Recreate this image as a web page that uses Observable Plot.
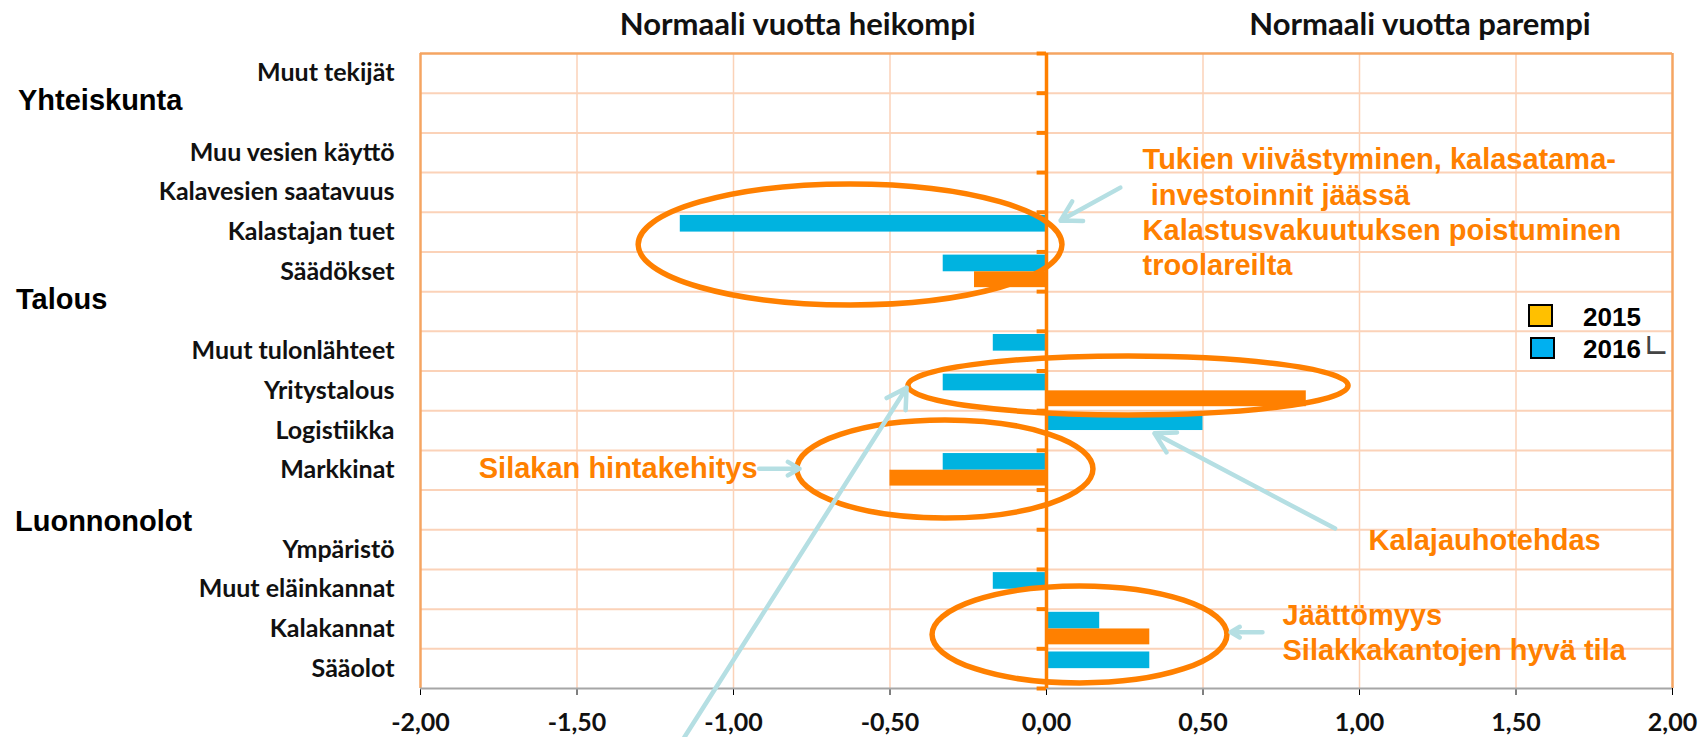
<!DOCTYPE html>
<html>
<head>
<meta charset="utf-8">
<script src="https://cdn.jsdelivr.net/npm/d3@7"></script>
<script src="https://cdn.jsdelivr.net/npm/@observablehq/plot@0.6"></script>
<style>
  html, body { margin: 0; padding: 0; background: #fff; }
  #wrap { position: relative; width: 1708px; height: 737px; overflow: hidden; }
  #wrap svg { position: absolute; left: 0; top: 0; }
  .lbl { position: absolute; white-space: nowrap; transform: translateY(-50%); line-height: 1; }
  .head { font-family: Lato, sans-serif; font-weight: 700; font-size: 31px; color: #111; transform: translate(-50%, -50%); }
  .group { font-family: "Liberation Sans", Arial, sans-serif; font-weight: 700; font-size: 29px; color: #000; }
  .legtxt { font-family: "Liberation Sans", Arial, sans-serif; font-weight: 700; font-size: 26px; color: #000; }
  .sw { position: absolute; box-sizing: border-box; border: 2px solid #000; }
  [aria-label^="y-axis"] text { font-family: Lato, sans-serif; font-weight: 700; font-size: 25px; fill: #111; }
  [aria-label^="x-axis"] text { font-family: Lato, sans-serif; font-weight: 700; font-size: 25px; fill: #111; }
</style>
</head>
<body>
<div id="wrap"></div>
<script>
// ---- data ----
const categories = ["Muut tekijät", "", "Muu vesien käyttö", "Kalavesien saatavuus", "Kalastajan tuet", "Säädökset", "",
  "Muut tulonlähteet", "Yritystalous", "Logistiikka", "Markkinat", "",
  "Ympäristö", "Muut eläinkannat", "Kalakannat", "Sääolot"];
const values2015 = [0, null, 0, 0, 0, -0.23, null, 0, 0.83, 0, -0.50, null, 0, 0, 0.33, 0];
const values2016 = [0, null, 0, 0, -1.17, -0.33, null, -0.17, -0.33, 0.50, -0.33, null, 0, -0.17, 0.17, 0.33];
const years = ["2015", "2016"];
const xTicks = [-2, -1.5, -1, -0.5, 0, 0.5, 1, 1.5, 2];
const headings = ["Normaali vuotta heikompi", "Normaali vuotta parempi"];
const groups = ["Yhteiskunta", "Talous", "Luonnonolot"];

// annotations (data units)
const noteTexts = ["Tukien viivästyminen, kalasatama-", "\u00a0investoinnit jäässä", "Kalastusvakuutuksen poistuminen",
  "troolareilta", "Silakan hintakehitys", "Kalajauhotehdas", "Jäättömyys", "Silakkakantojen hyvä tila"];
const noteX = [0.307, 0.307, 0.307, 0.307, -0.923, 1.029, 0.754, 0.754];
const noteY = [2.67, 3.58, 4.46, 5.34, 10.46, 12.27, 14.16, 15.06];
const noteAnchor = ["start", "start", "start", "start", "end", "start", "start", "start"];
const arrowX1 = [0.236, -1.157, 0.922, -0.918, 0.69];
const arrowY1 = [3.38, 17.23, 11.97, 10.46, 14.58];
const arrowX2 = [0.045, -0.447, 0.345, -0.789, 0.588];
const arrowY2 = [4.21, 8.42, 9.57, 10.46, 14.58];
const ellCX = [-0.626, 0.262, -0.323, 0.107];
const ellCY = [4.825, 8.377, 10.48, 14.65];
const ellRX = [0.677, 0.703, 0.473, 0.471];
const ellRY = [1.524, 0.743, 1.235, 1.222];

// ---- colours ----
const ORANGE = "#ff8000", BLUE = "#00b3e0", GRID = "#fbd2b8", BORDER = "#f5a562", AXIS = "#a6a6a6", ARROW = "#b5dfe3";

const rows = categories.map((c, i) => ({i, c, v15: values2015[i], v16: values2016[i]})).filter(d => d.c);
const nBands = categories.length;
const boundaries = d3.range(1, nBands);
const labelTicks = rows.map(d => d.i + 0.5);
const fmt = d => d.toFixed(2).replace(".", ",");
const notes = noteTexts.map((t, k) => ({t, x: noteX[k], y: noteY[k], a: noteAnchor[k]}));
const arrows = arrowX1.map((x1, k) => ({x1, y1: arrowY1[k], x2: arrowX2[k], y2: arrowY2[k]}));
const noteStyle = {x: "x", y: "y", text: "t", fill: ORANGE, fontSize: 29, fontWeight: "bold", fontFamily: "Liberation Sans, Arial, sans-serif"};

const plot = Plot.plot({
  width: 1708, height: 737,
  marginTop: 53, marginBottom: 49, marginLeft: 420, marginRight: 36,
  style: {background: "transparent", overflow: "visible"},
  x: {domain: [-2, 2], ticks: xTicks, tickFormat: fmt, tickSize: 7, tickPadding: 18, label: null},
  y: {domain: [nBands, 0], ticks: labelTicks, tickFormat: d => categories[Math.floor(d)], tickSize: 0, tickPadding: 26, label: null},
  marks: [
    Plot.ruleX(xTicks.filter(t => t > -2 && t < 2 && t !== 0), {stroke: GRID, strokeWidth: 1.5}),
    Plot.ruleY(boundaries, {stroke: GRID, strokeWidth: 2}),
    Plot.ruleY([0], {stroke: BORDER, strokeWidth: 2.5}),
    Plot.ruleX([-2, 2], {stroke: BORDER, strokeWidth: 2.5}),
    Plot.ruleY([nBands], {stroke: AXIS, strokeWidth: 2}),
    Plot.rect(rows.filter(d => d.v16), {x1: 0, x2: "v16", y1: d => d.i + 0.08, y2: d => d.i + 0.5, fill: BLUE}),
    Plot.rect(rows.filter(d => d.v15), {x1: 0, x2: "v15", y1: d => d.i + 0.5, y2: d => d.i + 0.9, fill: ORANGE}),
    Plot.ruleY(d3.range(0, nBands + 1), {x1: -0.03, x2: 0, stroke: ORANGE, strokeWidth: 4}),
    Plot.ruleX([0], {stroke: ORANGE, strokeWidth: 3.5}),
    Plot.text(notes.filter(d => d.a === "start"), {...noteStyle, textAnchor: "start"}),
    Plot.text(notes.filter(d => d.a === "end"), {...noteStyle, textAnchor: "end"}),
    Plot.arrow(arrows, {x1: "x1", y1: "y1", x2: "x2", y2: "y2", stroke: ARROW, strokeWidth: 4.5, headLength: 7.5, headAngle: 60})
  ]
});

const wrap = document.getElementById("wrap");
wrap.appendChild(plot);

// ellipses positioned through the plot's own scales, inserted under the arrows
const sx = plot.scale("x"), sy = plot.scale("y");
const arrowG = plot.querySelector('g[aria-label="arrow"]');
ellCX.forEach((cx, k) => {
  const px = sx.apply(cx), py = sy.apply(ellCY[k]);
  const rx = Math.abs(sx.apply(cx + ellRX[k]) - px), ry = Math.abs(sy.apply(ellCY[k] + ellRY[k]) - py);
  const e = document.createElementNS("http://www.w3.org/2000/svg", "ellipse");
  e.setAttribute("cx", px); e.setAttribute("cy", py); e.setAttribute("rx", rx); e.setAttribute("ry", ry);
  e.setAttribute("fill", "none"); e.setAttribute("stroke", ORANGE); e.setAttribute("stroke-width", 5.5);
  plot.insertBefore(e, arrowG);
});

// headings, group labels and legend (HTML around the chart)
function addDiv(cls, text, left, top, extra) {
  const d = document.createElement("div");
  d.className = cls; d.textContent = text;
  d.style.left = left + "px"; d.style.top = top + "px";
  if (extra) Object.assign(d.style, extra);
  wrap.appendChild(d); return d;
}
addDiv("lbl head", headings[0], sx.apply(-0.793), 23);
addDiv("lbl head", headings[1], sx.apply(1.195), 23);
addDiv("lbl group", groups[0], 18, 100);
addDiv("lbl group", groups[1], 16, 299);
addDiv("lbl group", groups[2], 15, 521);

addDiv("sw", "", 1528, 304, {width: "25px", height: "23px", background: "#ffc000"});
addDiv("sw", "", 1530, 337, {width: "25px", height: "22px", background: "#00b0f0"});
addDiv("lbl legtxt", years[0], 1583, 317);
addDiv("lbl legtxt", years[1], 1583, 349);
addDiv("lbl", "\u221F", 1643, 346, {fontFamily: "DejaVu Sans", fontSize: "32px", color: "#444"});
</script>
</body>
</html>
